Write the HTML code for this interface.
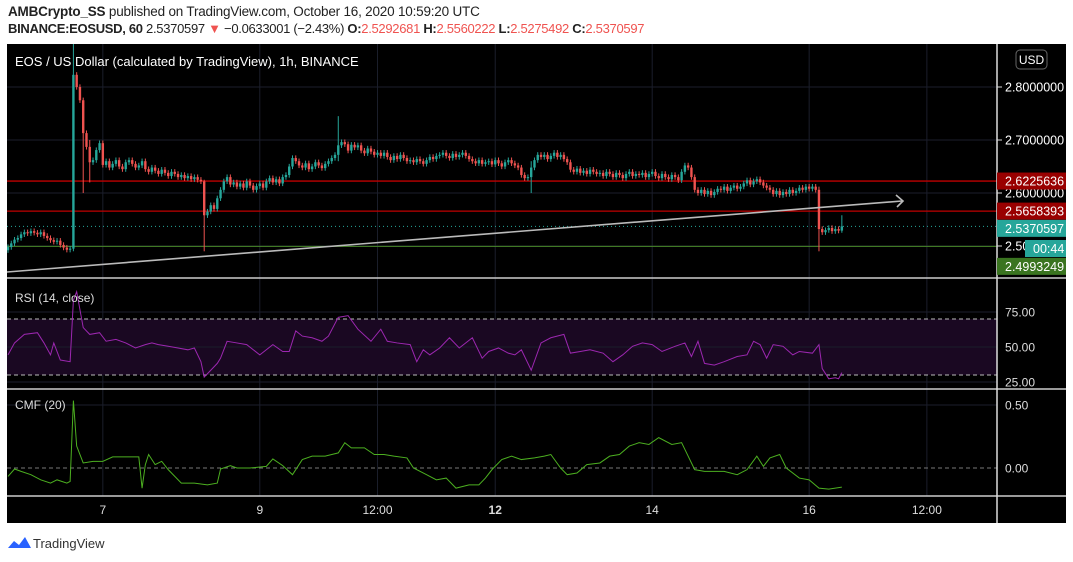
<!DOCTYPE html>
<html><head><meta charset="utf-8"><style>
body{margin:0;width:1073px;height:562px;background:#fff;overflow:hidden;font-family:"Liberation Sans",sans-serif}
#hdr1{position:absolute;left:8px;top:4px;font-size:13.5px;color:#222;letter-spacing:-0.2px}
#hdr2{position:absolute;left:8px;top:21px;font-size:13px;color:#222;letter-spacing:-0.3px;white-space:nowrap}
.r{color:#ef5350}
svg{position:absolute;left:0;top:0}
</style></head><body>
<div id="hdr1"><b>AMBCrypto_SS</b> published on TradingView.com, October 16, 2020 10:59:20 UTC</div>
<div id="hdr2"><b>BINANCE:EOSUSD, 60</b> 2.5370597 <span class="r">▼</span> −0.0633001 (−2.43%) <b>O:</b><span class="r">2.5292681</span> <b>H:</b><span class="r">2.5560222</span> <b>L:</b><span class="r">2.5275492</span> <b>C:</b><span class="r">2.5370597</span></div>
<svg id="c" width="1073" height="562" xmlns="http://www.w3.org/2000/svg" font-family="Liberation Sans, sans-serif">
<defs>
<clipPath id="mainClip"><rect x="7" y="44" width="990" height="233"/></clipPath>
</defs>
<rect x="7" y="44" width="1059" height="479" fill="#000"/>
<g id="grid"></g>
<g id="main" clip-path="url(#mainClip)"></g>
<g id="ind"></g>
<g id="axis"></g>
<g>
<path d="M8 548 l6 -7 l5 4 l6 -8 l6 11 z" fill="#2962ff"/>
<text x="33" y="548" font-size="13" fill="#333">TradingView</text>
</g>
</svg>
<script>
const closes=[2.498,2.505,2.512,2.515,
2.522,2.526,2.524,2.528,2.525,2.522,2.526,
2.519,2.515,2.511,2.508,2.510,
2.502,2.497,2.493,2.495,
2.823,2.80,2.775,2.713,2.687,2.658,2.662,2.681,2.694,
2.653,2.660,2.648,2.655,2.662,2.650,2.645,2.658,
2.662,2.655,2.648,2.652,2.660,2.645,2.640,2.648,2.642,2.636,2.644,2.638,2.632,2.640,2.636,2.630,2.634,2.628,2.632,2.626,2.630,2.625,
2.622,2.558,
2.565,2.577,2.570,2.590,2.606,
2.622,2.630,2.616,2.620,2.612,2.618,2.610,2.622,2.614,2.606,2.613,
2.618,2.610,2.622,2.628,2.620,2.626,2.618,2.630,2.634,
2.650,2.666,2.660,
2.652,2.648,2.656,2.645,2.650,2.658,2.652,2.647,2.655,2.660,2.666,2.672,
2.690,2.696,2.692,2.680,
2.691,2.686,2.690,2.680,2.675,2.684,2.678,2.672,2.676,
2.670,2.676,2.668,2.662,2.670,2.664,2.672,2.666,2.660,
2.662,2.658,2.664,2.660,2.655,2.662,2.668,2.664,2.670,
2.672,2.676,2.670,2.666,2.674,2.668,2.672,2.676,2.670,
2.664,2.660,2.656,2.662,2.655,2.658,
2.660,2.654,2.662,2.656,2.650,2.658,2.662,2.656,2.652,2.648,
2.634,2.628,2.630,
2.648,2.662,2.672,2.668,
2.672,2.664,2.670,2.676,2.668,2.672,2.664,2.658,
2.644,2.640,2.646,2.638,2.642,2.636,2.644,2.640,2.636,
2.638,2.632,2.640,2.636,2.630,2.638,2.634,2.628,2.636,2.640,2.632,2.636,
2.634,2.638,2.630,2.636,2.640,2.632,2.628,2.636,2.630,2.626,2.634,2.630,2.624,
2.640,2.652,2.648,2.630,2.606,
2.600,2.606,2.598,2.604,2.596,2.602,2.608,
2.606,2.612,2.604,2.610,2.614,2.608,2.612,
2.618,2.624,2.616,2.622,2.626,2.620,2.614,2.610,
2.606,2.598,2.604,2.596,2.602,2.598,2.606,2.600,2.604,
2.610,2.606,2.612,2.608,2.612,2.606,
2.532,
2.526,2.530,2.534,2.528,2.532,2.529,2.537];
const firstOpen=2.492;
const bigWicks=[[20,2.885,2.490],[60,2.625,2.49],[101,2.745,2.66],[160,2.66,2.60],[248,2.612,2.49],[255,2.558,2.525],[23,2.78,2.60],[25,2.70,2.62]];
const priceTicks=[2.8,2.7,2.6,2.5];
const levels=[2.6225636,2.5658393];
const lastPrice=2.5370597, lowLevel=2.4993249;
const rsiPoints=[[0,44.4],[2,52.9],[5,59],[9,60.2],[11,52.9],[13,44.4],[14,52.9],[16,40.7],[19,39.5],[20,83.4],[21,89.5],[23,63.9],[25,59],[28,60.2],[30,54.1],[33,55.4],[36,52.9],[39,49.3],[42,51.7],[44,52.9],[46,51.7],[49,50.5],[52,49.3],[55,48],[57,49.3],[59,39.5],[60,28.5],[64,38.3],[65,42],[67,54.1],[70,52.9],[73,51.7],[77,44.4],[81,51.7],[84,46.8],[86,46.8],[88,61.5],[90,57.8],[93,56.6],[96,54.1],[98,57.8],[101,71.2],[104,72.4],[107,62.7],[111,54.1],[114,62.7],[116,54.1],[119,52.9],[123,51.7],[125,39.5],[127,48],[129,44.4],[132,49.3],[135,56.6],[138,49.3],[142,56.6],[145,42],[147,46.8],[150,49.3],[153,45.6],[155,44.4],[157,48],[160,33.4],[163,52.9],[166,56.6],[170,59],[172,45.6],[175,46.8],[178,48],[182,45.6],[185,39.5],[188,44.4],[191,50.5],[194,52.9],[197,51.7],[200,46.8],[204,50.5],[207,52.9],[209,43.2],[211,54.1],[213,38.3],[216,37.1],[219,39.5],[223,43.2],[226,44.4],[228,54.1],[230,51.7],[232,42],[234,51.7],[237,50.5],[240,44.4],[242,46.8],[246,45.6],[248,51.7],[249,34.6],[251,27.3],[253,28],[254,27.3],[255,31.7]];
const cmfPoints=[[0,-0.067],[2,-0.008],[4,-0.027],[7,-0.053],[10,-0.094],[13,-0.12],[15,-0.094],[18,-0.12],[19,-0.107],[20,0.535],[21,0.174],[23,0.04],[26,0.053],[29,0.053],[32,0.088],[35,0.088],[40,0.088],[41,-0.16],[42,0.027],[43,0.107],[45,0.027],[47,0.053],[49,-0.013],[53,-0.12],[57,-0.12],[61,-0.134],[64,-0.12],[65,-0.008],[68,0.019],[70,0],[74,0],[79,0.013],[81,0.072],[84,0.019],[87,-0.053],[90,0.067],[93,0.094],[97,0.094],[101,0.12],[103,0.201],[105,0.16],[109,0.16],[112,0.107],[115,0.107],[118,0.094],[122,0.08],[124,0],[128,-0.053],[131,-0.094],[134,-0.08],[137,-0.16],[141,-0.134],[144,-0.134],[146,-0.08],[148,-0.013],[151,0.067],[154,0.094],[157,0.067],[161,0.08],[164,0.094],[166,0.107],[169,0],[171,-0.053],[174,-0.04],[177,0.027],[181,0.04],[184,0.094],[187,0.107],[190,0.174],[193,0.201],[196,0.187],[199,0.241],[203,0.187],[206,0.201],[208,0.094],[210,-0.013],[213,-0.027],[216,-0.027],[219,-0.027],[223,-0.053],[226,-0.013],[229,0.094],[231,0.013],[233,0.08],[236,0.107],[238,0],[242,-0.08],[245,-0.094],[248,-0.16],[251,-0.168],[255,-0.152]];
const timeLabels=["7","9","12:00","12","14","16","12:00"];
const timeHours=[29,77,113,149,197,245,281]; // candle index of each label

const NS="http://www.w3.org/2000/svg";
const X0=8, DX=3.27;
const xOf=i=>X0+i*DX;
const yP=p=>87+(2.8-p)*530;
const yR=v=>347-(v-50)*1.4;
const yC=v=>468-v*126;
function mk(tag,attrs,parent){const e=document.createElementNS(NS,tag);for(const k in attrs)e.setAttribute(k,attrs[k]);parent.appendChild(e);return e;}
const grid=document.getElementById('grid'),main=document.getElementById('main'),ind=document.getElementById('ind'),axis=document.getElementById('axis');
const GC="#1b1e2b";
timeHours.forEach((h,k)=>{
 const x=xOf(h);
 const l=mk('line',{x1:x,x2:x,y1:44,y2:496,stroke:GC,'stroke-width':1},grid);
 
 
 const t=mk('text',{x:x,y:514,'font-size':12,fill:'#ddd','text-anchor':'middle','font-weight':timeLabels[k]=="12"?'bold':'normal'},axis);
 t.textContent=timeLabels[k];
 
 
});
priceTicks.forEach(p=>{
 const l=mk('line',{x1:7,x2:997,y1:yP(p),y2:yP(p),stroke:GC},grid);
 
 
 const tk=mk('line',{x1:997,x2:1002,y1:yP(p),y2:yP(p),stroke:'#ddd'},axis);
 
 
 const t=mk('text',{x:1005,y:yP(p)+4.5,'font-size':12.5,fill:'#fff'},axis);
 t.textContent=p.toFixed(7);
 
 
});
levels.forEach(v=>{
 const l=mk('line',{x1:7,x2:997,y1:yP(v),y2:yP(v),stroke:'#c00000','stroke-width':1.3},main);
 
 
});
let ll=mk('line',{x1:7,x2:997,y1:yP(lastPrice),y2:yP(lastPrice),stroke:'#26a69a','stroke-dasharray':'1 3'},main);


ll=mk('line',{x1:7,x2:997,y1:yP(lowLevel),y2:yP(lowLevel),stroke:'#4a8a2a'},main);


closes.forEach((c,i)=>{
 const o=i==0?firstOpen:closes[i-1];
 let hi=Math.max(o,c)+0.005, lo=Math.min(o,c)-0.005;
 bigWicks.forEach(w=>{if(w[0]==i){hi=w[1];lo=w[2];}});
 const col=c>=o?'#26a69a':'#ef5350';
 const x=xOf(i);
 const g=mk('g',{},main);
 
 
 mk('line',{x1:x,x2:x,y1:yP(hi),y2:yP(lo),stroke:col,'stroke-width':1},g);
 const top=yP(Math.max(o,c)),bot=yP(Math.min(o,c));
 mk('rect',{x:x-1.2,y:top,width:2.4,height:Math.max(1,bot-top),fill:col},g);
});
let tl=mk('line',{x1:7,y1:272,x2:902,y2:201,stroke:'#bbb','stroke-width':1.6},main);


tl=mk('path',{d:'M896 195 L903 201 L897 207',stroke:'#bbb',fill:'none','stroke-width':1.6},main);


let tt=mk('text',{x:15,y:66,'font-size':13,fill:'#fff'},axis);
tt.textContent='EOS / US Dollar (calculated by TradingView), 1h, BINANCE';


[[278],[389],[496]].forEach(a=>{
 const s=mk('line',{x1:7,x2:1066,y1:a[0],y2:a[0],stroke:'#ccc','stroke-width':1.5},axis);
 
 
});
let ax=mk('line',{x1:997,x2:997,y1:44,y2:523,stroke:'#ddd','stroke-width':1.5},axis);


function label(y,txt,bg,name,x0,w){
 const g=mk('g',{},axis);
 
 
 mk('rect',{x:x0||997,y:y-8.5,width:w||69,height:17,fill:bg},g);
 const t=mk('text',{x:(x0||997)+8,y:y+4.5,'font-size':12.5,fill:'#fff'},g);t.textContent=txt;
}
label(yP(levels[0]),levels[0].toFixed(7),'#990000','resistance-price-label');
label(yP(levels[1]),levels[1].toFixed(7),'#990000','level-price-label');
label(yP(lastPrice)+2,lastPrice.toFixed(7),'#26a69a','last-price-label');
label(248.5,'00:44','#26a69a','countdown-label',1025,41);
label(yP(lowLevel)+20,lowLevel.toFixed(7),'#3a7420','support-price-label');
let ub=mk('g',{},axis);


mk('rect',{x:1016,y:50,width:31,height:19,rx:4,fill:'#000',stroke:'#666'},ub);
mk('text',{x:1031.5,y:64,'font-size':12,fill:'#fff','text-anchor':'middle'},ub).textContent='USD';
let band=mk('rect',{x:7,y:yR(70),width:990,height:yR(30)-yR(70),fill:'#1a0822'},ind);


[75,50,25].forEach(v=>{
 const l=mk('line',{x1:7,x2:997,y1:yR(v),y2:yR(v),stroke:GC},ind);
 
 
 const t=mk('text',{x:1005,y:yR(v)+4.5,'font-size':12,fill:'#ddd'},axis);t.textContent=v.toFixed(2);
 
 
});
[70,30].forEach(v=>{
 const l=mk('line',{x1:7,x2:997,y1:yR(v),y2:yR(v),stroke:'#bbb','stroke-dasharray':'4 3'},ind);
 
 
});
let rp=mk('polyline',{points:rsiPoints.map(p=>xOf(p[0])+','+yR(p[1])).join(' '),fill:'none',stroke:'#9c27b0','stroke-width':1},ind);


tt=mk('text',{x:15,y:302,'font-size':12,fill:'#ddd'},ind);tt.textContent='RSI (14, close)';


let cg=mk('line',{x1:7,x2:997,y1:yC(0.5),y2:yC(0.5),stroke:GC},ind);


cg=mk('line',{x1:7,x2:997,y1:yC(0),y2:yC(0),stroke:'#777','stroke-dasharray':'4 3'},ind);


[0.5,0].forEach(v=>{
 const t=mk('text',{x:1005,y:yC(v)+4.5,'font-size':12,fill:'#ddd'},axis);t.textContent=v.toFixed(2);
 
 
});
let cp=mk('polyline',{points:cmfPoints.map(p=>xOf(p[0])+','+yC(p[1])).join(' '),fill:'none',stroke:'#4caf20','stroke-width':1},ind);


tt=mk('text',{x:15,y:409,'font-size':12,fill:'#ddd'},ind);tt.textContent='CMF (20)';


</script>
</body></html>
